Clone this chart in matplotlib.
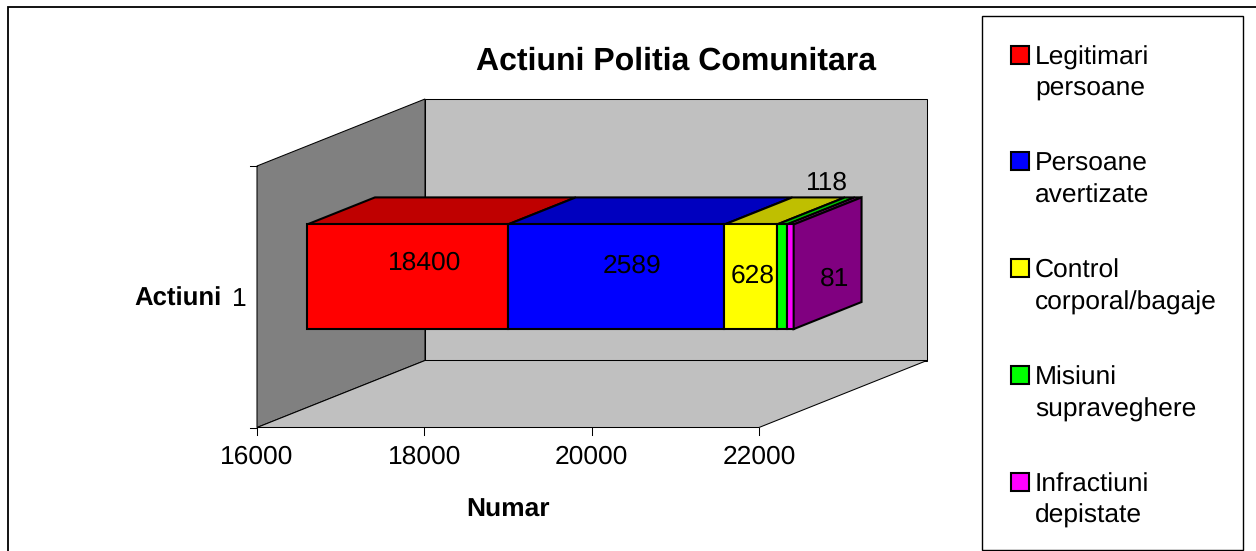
import matplotlib
matplotlib.use('Agg')
import numpy as np
import matplotlib.pyplot as plt
from matplotlib.patches import Polygon, Rectangle

plt.rcParams['font.family'] = ['Liberation Sans', 'DejaVu Sans']
plt.rcParams['text.hinting'] = 'none'

W, H = 1256, 551

# data
labels = ['Legitimari\npersoane', 'Persoane\navertizate', 'Control\ncorporal/bagaje',
          'Misiuni\nsupraveghere', 'Infractiuni\ndepistate']
values = [18400, 2589, 628, 118, 81]
front_colors = ['#FF0000', '#0000FF', '#FFFF00', '#00FF00', '#FF00FF']
top_colors = ['#BF0000', '#0000BF', '#BFBF00', '#00BF00', '#BF00BF']
side_color = '#800080'
xticks = [16000, 18000, 20000, 22000]
xmin, xmax = 16000, 22000

fig = plt.figure(figsize=(W / 100, H / 100), dpi=100)

# axes box = front plane of the 3d chart (pixels 257..759, 166..427)
ax = fig.add_axes([257 / W, 1 - 427.5 / H, 502 / W, 261.5 / H])
ax.set_xlim(xmin, xmax)
ax.set_ylim(0, 1)
ax.axis('off')

px_x = (xmax - xmin) / 502
px_y = 1 / 261.5


def proj(v, z, d):
    # d is depth 0..1, back wall is 168 px right and 67 px up
    return (v + d * 168 * px_x, z + d * 67 * px_y)


def face(pts, color, lw=0.75, z=2):
    ax.add_patch(Polygon(pts, closed=True, fc=color, ec='black', lw=lw,
                         clip_on=False, zorder=z, joinstyle='miter'))


# walls and floor
face([proj(xmin, 0, 1), proj(xmax, 0, 1), proj(xmax, 1, 1), proj(xmin, 1, 1)], '#C0C0C0')
face([proj(xmin, 0, 0), proj(xmin, 0, 1), proj(xmin, 1, 1), proj(xmin, 1, 0)], '#808080')
face([proj(xmin, 0, 0), proj(xmax, 0, 0), proj(xmax, 0, 1), proj(xmin, 0, 1)], '#C0C0C0')

# ticks
for t in xticks:
    ax.plot([t, t], [0, -7 * px_y], color='black', lw=0.75, clip_on=False, zorder=3)
    ax.annotate(str(t), xy=(t, 0), xytext=(0, -17), textcoords='offset pixels',
                ha='center', va='top', fontsize=19, annotation_clip=False)
for z in [0, 1]:
    ax.plot([-7 * px_x + xmin, xmin], [z, z], color='black', lw=0.75, clip_on=False, zorder=3)

# stacked bar
z0, z1 = 0.3, 0.7
d0, d1 = 0.298, 0.702
lw = 1.5
seg_left = []
for i, v in enumerate(values):
    # first segment is cut by the axis minimum
    start = 0 if i == 0 else sum(values[:i])
    end = start + v
    a = max(start, xmin)
    seg_left.append((a, end))
    face([proj(a, z1, d0), proj(end, z1, d0), proj(end, z1, d1), proj(a, z1, d1)],
         top_colors[i], lw=lw, z=4)
    face([proj(a, z0, d0), proj(end, z0, d0), proj(end, z1, d0), proj(a, z1, d0)],
         front_colors[i], lw=lw, z=5)
end = sum(values)
face([proj(end, z0, d0), proj(end, z0, d1), proj(end, z1, d1), proj(end, z1, d0)],
     side_color, lw=lw, z=5)

# data labels, offsets in pixels from the middle of the front face
offsets = [(17, 14), (16, 11), (2, 1), (45, 94), (44, -2)]
for (a, b), v, (ox, oy) in zip(seg_left, values, offsets):
    ax.annotate(str(v), xy=proj((a + b) / 2, 0.5, d0), xytext=(ox, oy),
                textcoords='offset pixels', ha='center', va='center',
                fontsize=19, zorder=6, annotation_clip=False)

# titles, in figure pixels
fig.text(676 / W, 1 - 61 / H, 'Actiuni Politia Comunitara', ha='center', va='center',
         fontsize=23, fontweight='bold')
fig.text(508.5 / W, 1 - 510 / H, 'Numar', ha='center', va='center', fontsize=19, fontweight='bold')
fig.text(178 / W, 1 - 299 / H, 'Actiuni', ha='center', va='center', fontsize=18.5, fontweight='bold')
fig.text(239 / W, 1 - 299 / H, '1', ha='center', va='center', fontsize=19)

# chart frame runs off the right and bottom of the picture
fig.add_artist(Rectangle((7.5 / W, 1 - 560 / H), 1270 / W, 553.5 / H, transform=fig.transFigure,
                         fc='none', ec='black', lw=1.3))
fig.add_artist(Rectangle((982 / W, 1 - 550 / H), 261 / W, 534 / H, transform=fig.transFigure,
                         fc='white', ec='black', lw=1.0))
for i, (lab, c) in enumerate(zip(labels, front_colors)):
    y = 54.5 + i * 106.8
    fig.add_artist(Rectangle((1011 / W, 1 - (y + 9) / H), 18 / W, 18 / H, transform=fig.transFigure,
                             fc=c, ec='black', lw=1.5))
    fig.text(1035 / W, 1 - (y - 9) / H, lab, ha='left', va='top', fontsize=19, linespacing=1.38)

fig.savefig('out.png', dpi=100)
